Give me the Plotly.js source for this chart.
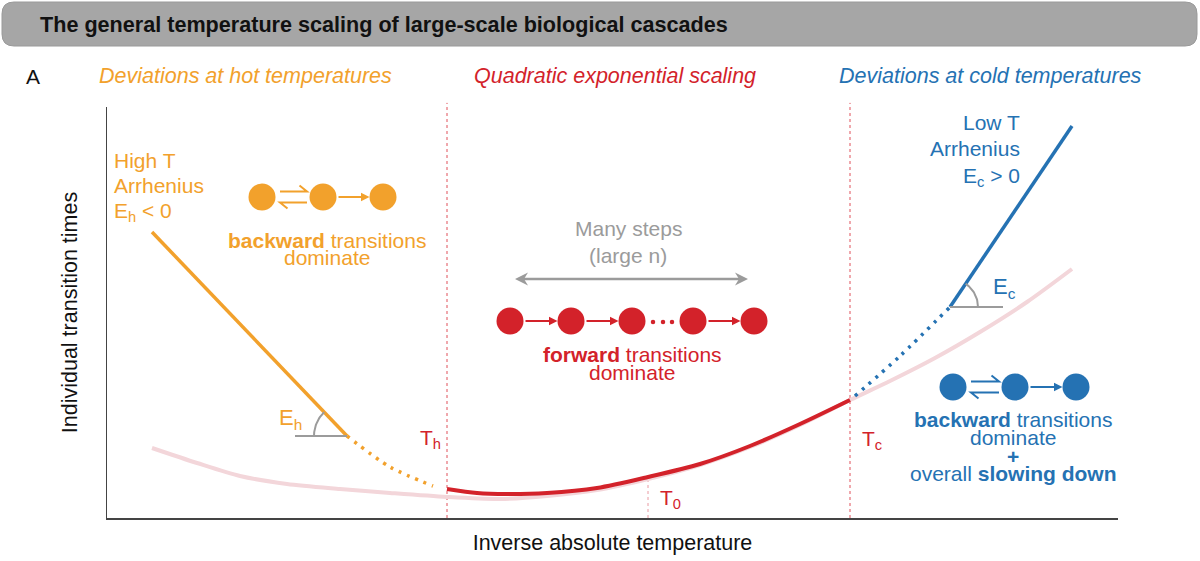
<!DOCTYPE html>
<html><head><meta charset="utf-8">
<script src="https://cdn.plot.ly/plotly-3.0.1.min.js"></script>
<style>html,body{margin:0;padding:0;background:#fff}</style>
</head><body><div id="chart" style="width:1200px;height:561px"></div>
<script>
// ---- Schematic data (x: inverse absolute temperature, y: individual transition time; arbitrary units) ----
const paleX = [4.5, 9.0, 13.3, 18.0, 23.3, 28.3, 34.0, 39.3, 44.0, 49.0, 54.1, 59.3, 64.3, 69.3, 74.3, 78.3, 82.8, 87.3, 92.0, 96.5];
const paleY = [7.0, 5.5, 4.2, 3.4, 2.9, 2.5, 2.1, 1.9, 2.2, 2.8, 3.9, 5.3, 7.1, 9.3, 11.8, 13.7, 16.0, 18.6, 21.6, 24.9];
const quadX = [34.0, 37.0, 40.0, 44.0, 49.0, 54.1, 59.3, 64.3, 69.3, 74.3];
const quadY = [2.9, 2.5, 2.4, 2.5, 3.0, 4.1, 5.4, 7.2, 9.4, 11.8];
const hotX = [4.5, 24.0];
const hotY = [28.6, 8.2];
const hotDotX = [24.0, 28.3, 32.6];
const hotDotY = [8.2, 5.1, 3.2];
const coldX = [84.3, 96.5];
const coldY = [21.1, 39.2];
const coldDotX = [74.8, 79.3, 84.3];
const coldDotY = [12.2, 16.2, 21.1];
const thresholdX = [34.0, 74.3];       // T_h, T_c
const t0X = 54.1, t0Y = 4.1;            // T_0
// cascade diagrams (states)
const hotStatesX = [15.5, 21.6, 27.6];  const hotStatesY = 32.1;
const fwdStatesX = [40.3, 46.4, 52.5, 58.6, 64.7]; const fwdStatesY = 19.7;
const coldStatesX = [84.6, 90.8, 96.9]; const coldStatesY = 13.1;
const ellipsisX = [54.6, 55.6, 56.5];
const manyStepsArrow = [40.8, 64.1, 23.9];

// ---- Colors / fonts ----
const ORANGE = '#F2A12C', RED = '#D3222A', BLUE = '#2572B3', GRAY = '#9B9B9B', PALE = '#F3D6DA';
const FONT = 'Liberation Sans, Arial, Helvetica, sans-serif';

const line = (x, y, color, width, dash, shape) => ({
  x, y, type: 'scatter', mode: 'lines', hoverinfo: 'skip', showlegend: false,
  line: {color, width, dash: dash || 'solid', shape: shape || 'linear', smoothing: 0.8}
});
const states = (xs, yv, color) => ({
  x: xs, y: xs.map(() => yv), type: 'scatter', mode: 'markers', hoverinfo: 'skip', showlegend: false,
  marker: {color, size: 27, line: {width: 0}}
});
function arc(cx, cy, r, a0, a1) {
  const xs = [], ys = [];
  for (let i = 0; i <= 24; i++) {
    const a = (a0 + (a1 - a0) * i / 24) * Math.PI / 180;
    xs.push(cx + r * Math.cos(a)); ys.push(cy + r * Math.sin(a));
  }
  return line(xs, ys, GRAY, 2);
}
const hotAng = Math.atan2(hotY[0] - hotY[1], hotX[0] - hotX[1]) * 180 / Math.PI;
const coldAng = Math.atan2(coldY[1] - coldY[0], coldX[1] - coldX[0]) * 180 / Math.PI;

const traces = [
  line(paleX, paleY, PALE, 4, 'solid', 'spline'),
  line(quadX, quadY, RED, 4, 'solid', 'spline'),
  line(hotX, hotY, ORANGE, 3.5),
  line(hotDotX, hotDotY, ORANGE, 3.5, '3px,6px', 'spline'),
  line(coldX, coldY, BLUE, 3.5),
  line(coldDotX, coldDotY, BLUE, 3.5, '3px,6px', 'spline'),
  line([hotX[1] - 5.2, hotX[1]], [hotY[1], hotY[1]], GRAY, 2),
  arc(hotX[1], hotY[1], 3.3, hotAng, 180),
  line([coldX[0], coldX[0] + 5.3], [coldY[0], coldY[0]], GRAY, 2),
  arc(coldX[0], coldY[0], 2.8, 0, coldAng),
  states(hotStatesX, hotStatesY, ORANGE),
  states(fwdStatesX, fwdStatesY, RED),
  states(coldStatesX, coldStatesY, BLUE),
  {x: ellipsisX, y: ellipsisX.map(() => fwdStatesY - 0.1), type: 'scatter', mode: 'markers', hoverinfo: 'skip',
   showlegend: false, marker: {color: RED, size: 4.5, symbol: 'circle'}}
];

// ---- shapes ----
const L = 107, R = 1118, T = 107, B = 518;
const px = v => (v - L) / (R - L), py = v => (B - v) / (B - T);
const shapes = [];
// arrows drawn as shapes
function head(tip, y, dir, len, hw, notch, color) {
  const b = tip - dir * len, n = tip - dir * notch;
  shapes.push({type: 'path', xref: 'x', yref: 'y', fillcolor: color, line: {width: 0},
    path: `M${tip},${y} L${b},${y + hw} L${n},${y} L${b},${y - hw} Z`});
}
function arrow(x0, x1, y, color) {
  shapes.push({type: 'line', xref: 'x', yref: 'y', x0, x1: x1 - 0.6, y0: y, y1: y, line: {color, width: 2}});
  head(x1, y, 1, 0.85, 0.42, 0.85, color);
}
function stepArrow(xs, i, yv, color) {
  const r = 1.35;
  arrow(xs[i] + r + 0.2, xs[i + 1] - r, yv, color);
}
stepArrow(hotStatesX, 1, hotStatesY, ORANGE);
stepArrow(fwdStatesX, 0, fwdStatesY, RED);
stepArrow(fwdStatesX, 1, fwdStatesY, RED);
stepArrow(fwdStatesX, 3, fwdStatesY, RED);
stepArrow(coldStatesX, 1, coldStatesY, BLUE);
// double-headed "many steps" arrow
shapes.push({type: 'line', xref: 'x', yref: 'y', x0: manyStepsArrow[0] + 0.8, x1: manyStepsArrow[1] - 0.8,
  y0: manyStepsArrow[2], y1: manyStepsArrow[2], line: {color: GRAY, width: 2.5}});
head(manyStepsArrow[1], manyStepsArrow[2], 1, 1.3, 0.65, 0.9, GRAY);
head(manyStepsArrow[0], manyStepsArrow[2], -1, 1.3, 0.65, 0.9, GRAY);
// equilibrium harpoons
function harpoon(xs, yv, color) {
  const a = xs[0] + 1.8, b = xs[1] - 1.6, d = 0.55;
  shapes.push({type: 'path', xref: 'x', yref: 'y', line: {color, width: 2},
     path: `M${a},${yv + d} L${b},${yv + d} L${b - 0.75},${yv + d + 0.6}`});
  shapes.push({type: 'path', xref: 'x', yref: 'y', line: {color, width: 2},
     path: `M${b},${yv - d} L${a},${yv - d} L${a + 0.75},${yv - d - 0.6}`});
}
harpoon(hotStatesX, hotStatesY, ORANGE);
harpoon(coldStatesX, coldStatesY, BLUE);
// title banner
const bx0 = px(2), bx1 = px(1197), by0 = py(46), by1 = py(2), rx = 12 / (R - L), ry = 12 / (B - T);
shapes.push({type: 'path', xref: 'paper', yref: 'paper', layer: 'below', fillcolor: '#A6A6A6', line: {color: '#9A9A9A', width: 1},
   path: `M${bx0 + rx},${by0} L${bx1 - rx},${by0} Q${bx1},${by0} ${bx1},${by0 + ry} L${bx1},${by1 - ry} Q${bx1},${by1} ${bx1 - rx},${by1} L${bx0 + rx},${by1} Q${bx0},${by1} ${bx0},${by1 - ry} L${bx0},${by0 + ry} Q${bx0},${by0} ${bx0 + rx},${by0} Z`});
// temperature thresholds
thresholdX.forEach(x => shapes.push({type: 'line', xref: 'x', yref: 'paper', x0: x, x1: x, y0: 0, y1: 1.01, layer: 'below',
    line: {color: '#E0505A', width: 1, dash: 'dot'}}));
shapes.push({type: 'line', xref: 'x', yref: 'y', x0: t0X, x1: t0X, y0: 0, y1: t0Y, layer: 'below', line: {color: '#E99AA2', width: 1, dash: 'dot'}});

// ---- text ----
const anns = [];
function txt(x, y, text, color, size, o) {
  anns.push(Object.assign({x, y, xref: 'x', yref: 'y', text, showarrow: false,
    font: {family: FONT, size, color}, xanchor: 'left', yanchor: 'middle'}, o || {}));
}
function ptxt(pxx, pyy, text, color, size, style) {
  anns.push({x: px(pxx), y: py(pyy), xref: 'paper', yref: 'paper', text, showarrow: false,
    font: {family: FONT, size, color, style: style || 'normal'}, xanchor: 'left', yanchor: 'middle'});
}
// panel letter + headers
ptxt(24, 76, 'A', '#111', 21);
ptxt(97, 76, 'Deviations at hot temperatures', ORANGE, 21.5, 'italic');
ptxt(472, 76, 'Quadratic exponential scaling', RED, 21.5, 'italic');
ptxt(837, 76, 'Deviations at cold temperatures', BLUE, 21.5, 'italic');
// hot side
txt(0.5, 35.8, 'High T', ORANGE, 21);
txt(0.5, 33.3, 'Arrhenius', ORANGE, 21);
txt(0.5, 30.6, 'E<sub>h</sub> &lt; 0', ORANGE, 21);
txt(22.0, 27.8, '<b>backward</b> transitions', ORANGE, 21, {xanchor: 'center'});
txt(22.0, 26.1, 'dominate', ORANGE, 21, {xanchor: 'center'});
txt(17.0, 9.9, 'E<sub>h</sub>', ORANGE, 22);
txt(31.1, 7.9, 'T<sub>h</sub>', RED, 21);
// middle
txt(52.1, 29.0, 'Many steps', GRAY, 21, {xanchor: 'center'});
txt(52.1, 26.3, '(large n)', GRAY, 21, {xanchor: 'center'});
txt(52.5, 16.4, '<b>forward</b> transitions', RED, 21, {xanchor: 'center'});
txt(52.5, 14.6, 'dominate', RED, 21, {xanchor: 'center'});
txt(55.1, 1.9, 'T<sub>0</sub>', RED, 21);
// cold side
txt(91.5, 39.6, 'Low T', BLUE, 21, {xanchor: 'right'});
txt(91.5, 37.0, 'Arrhenius', BLUE, 21, {xanchor: 'right'});
txt(91.5, 34.1, 'E<sub>c</sub> &gt; 0', BLUE, 21, {xanchor: 'right'});
txt(88.4, 23.0, 'E<sub>c</sub>', BLUE, 22);
txt(75.3, 7.8, 'T<sub>c</sub>', RED, 21);
txt(90.6, 9.9, '<b>backward</b> transitions', BLUE, 21, {xanchor: 'center'});
txt(90.6, 8.1, 'dominate', BLUE, 21, {xanchor: 'center'});
txt(90.6, 6.2, '<b>+</b>', BLUE, 21, {xanchor: 'center'});
txt(90.6, 4.5, 'overall <b>slowing down</b>', BLUE, 21, {xanchor: 'center'});

const NB = '\u00A0';
const layout = {
  width: 1200, height: 561,
  margin: {l: L, r: 1200 - R, t: T, b: 561 - B},
  paper_bgcolor: '#fff', plot_bgcolor: '#fff',
  font: {family: FONT, color: '#111'},
  title: {text: '<b>The general temperature scaling of large-scale biological cascades</b>',
    font: {family: FONT, size: 21.6, color: '#111'}, x: 40 / 1200, xanchor: 'left', y: 1 - 24 / 561, yanchor: 'middle',
    xref: 'container', yref: 'container'},
  xaxis: {range: [0, 101.1], showgrid: false, zeroline: false, showticklabels: false, ticks: '',
    showline: true, linecolor: '#444', linewidth: 1.5, fixedrange: true, automargin: false,
    title: {text: NB.repeat(8) + 'Inverse absolute temperature', font: {family: FONT, size: 21.5, color: '#111'}, standoff: 16}},
  yaxis: {range: [0, 41.1], showgrid: false, zeroline: false, showticklabels: false, ticks: '',
    showline: true, linecolor: '#444', linewidth: 1.5, fixedrange: true, automargin: false,
    title: {text: NB.repeat(5) + 'Individual transition times', font: {family: FONT, size: 21.5, color: '#111'}, standoff: 22}},
  shapes, annotations: anns, showlegend: false
};
Plotly.newPlot('chart', traces, layout, {displayModeBar: false, staticPlot: true});
</script></body></html>
